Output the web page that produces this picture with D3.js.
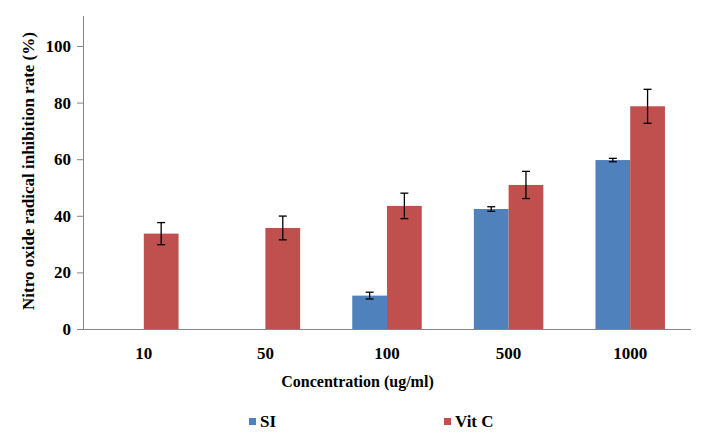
<!DOCTYPE html>
<html><head><meta charset="utf-8">
<script src="https://cdn.jsdelivr.net/npm/d3@7"></script>
<style>body{margin:0;background:#fff}svg{display:block}</style>
</head><body><svg id="c" width="707" height="442"></svg>
<script>
const categories = ["10","50","100","500","1000"];
const seriesNames = ["SI","Vit C"];
const siValues = [0, 0, 11.8, 42.4, 59.7];
const siErrors = [0, 0, 1.2, 0.8, 0.6];
const vitcValues = [33.7, 35.7, 43.5, 50.9, 78.7];
const vitcErrors = [3.9, 4.2, 4.5, 4.8, 6.0];
const yTicks = [0,20,40,60,80,100];
const colors = ["#4F81BD","#C0504D"];

const FONT = "'Liberation Serif', 'Times New Roman', Times, 'DejaVu Serif', serif";
const svg = d3.select("#c");
const x0 = 83, x1 = 691, yBase = 329, yTop = 16;
const x = d3.scaleBand().domain(categories).range([x0, x1]).paddingInner(0).paddingOuter(0);
const y = d3.scaleLinear().domain([0, 100]).range([yBase, 46]);
const gapRatio = 1.5;
const barW = x.bandwidth() / (2 + gapRatio);
const xs = d3.scaleBand().domain(seriesNames).range([0, 2*barW]);

const data = [
  {name:"SI", values:siValues, errors:siErrors, color:colors[0]},
  {name:"Vit C", values:vitcValues, errors:vitcErrors, color:colors[1]}
];

function styleText(sel, size){
  sel.style("font-family", FONT).style("font-weight","bold").style("font-size", size+"px").attr("fill","#000");
}

// axes
const yAxis = d3.axisLeft(y).tickValues(yTicks).tickSize(6).tickPadding(6);
const gy = svg.append("g").attr("transform",`translate(${x0},0)`).call(yAxis);
gy.select(".domain").remove();
gy.selectAll(".tick line").attr("stroke","#868686");
styleText(gy.selectAll(".tick text"), 17);
svg.append("line").attr("x1",x0+0.5).attr("x2",x0+0.5).attr("y1",yTop).attr("y2",yBase).attr("stroke","#868686");

const xAxis = d3.axisBottom(x).tickSize(0).tickPadding(18);
const gx = svg.append("g").attr("transform",`translate(0,${yBase})`).call(xAxis);
gx.select(".domain").remove();
styleText(gx.selectAll(".tick text"), 17);

// bars
const groups = svg.append("g").selectAll("g").data(data).join("g");
groups.each(function(s){
  const g = d3.select(this);
  const off = x.bandwidth()/2 - barW + xs(s.name);
  const rows = categories.map((c,i)=>({c, v:s.values[i], e:s.errors[i]}));
  g.selectAll("rect").data(rows)
    .join("rect")
    .attr("x", d => x(d.c) + off)
    .attr("width", barW)
    .attr("y", d => y(d.v))
    .attr("height", d => yBase - y(d.v))
    .attr("fill", s.color);
  const eb = g.selectAll("g.err").data(rows.filter(d=>d.v>0))
    .join("g").attr("class","err");
  eb.each(function(d){
    const cx = x(d.c) + off + barW/2;
    const e = d3.select(this);
    e.append("line").attr("x1",cx).attr("x2",cx).attr("y1",y(d.v+d.e)).attr("y2",y(d.v-d.e)).attr("stroke","#000").attr("stroke-width",1.3);
    [d.v+d.e, d.v-d.e].forEach(v=>e.append("line").attr("x1",cx-4).attr("x2",cx+4).attr("y1",y(v)).attr("y2",y(v)).attr("stroke","#000").attr("stroke-width",1.3));
  });
});

svg.append("line").attr("x1",x0).attr("x2",x1).attr("y1",yBase+0.5).attr("y2",yBase+0.5).attr("stroke","#868686");

// titles
styleText(svg.append("text").attr("x",357.5).attr("y",387).attr("text-anchor","middle").text("Concentration (ug/ml)"), 16);
styleText(svg.append("text").attr("transform","translate(34,171) rotate(-90)").attr("text-anchor","middle").text("Nitro oxide radical inhibition rate (%)"), 17);

// legend
const legX = [249, 444];
const leg = svg.append("g").selectAll("g").data(data).join("g").attr("transform",(d,i)=>`translate(${legX[i]},418)`);
leg.append("rect").attr("width",7).attr("height",7).attr("fill",d=>d.color);
styleText(leg.append("text").attr("x",11).attr("y",9).text(d=>d.name), 17);
</script></body></html>
